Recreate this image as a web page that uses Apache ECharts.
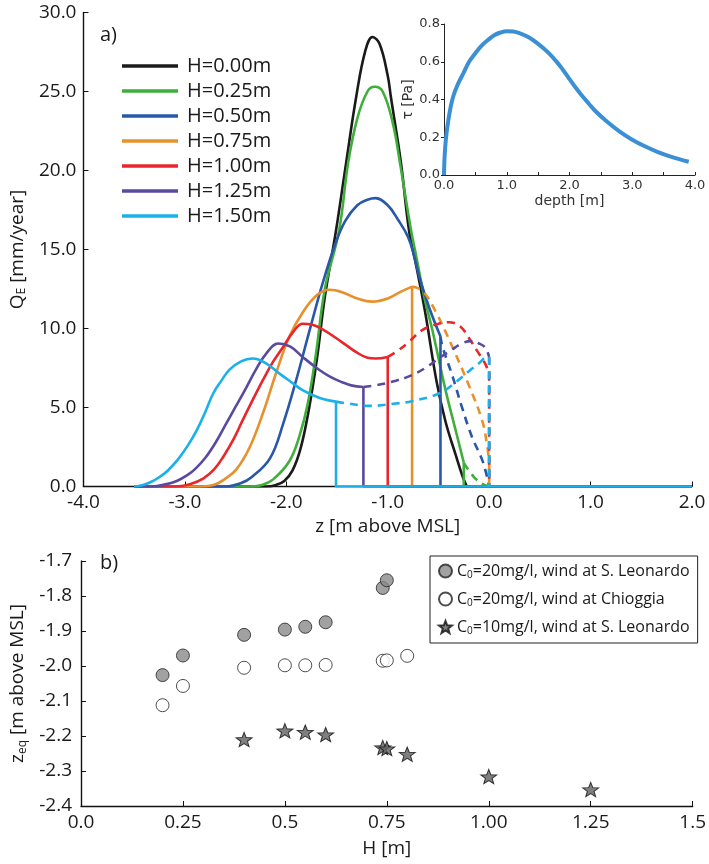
<!DOCTYPE html>
<html><head><meta charset="utf-8">
<script src="https://cdn.jsdelivr.net/npm/echarts@6/dist/echarts.min.js"></script>
<style>html,body{margin:0;padding:0;background:#fff}#c{width:709px;height:864px}</style>
</head><body><div id="c"></div><script>
// ---------- Panel a: Q_E vs z, one solid + one dashed curve per H ----------
const hLabels = ['H=0.00m','H=0.25m','H=0.50m','H=0.75m','H=1.00m','H=1.25m','H=1.50m'];
const zEnd = 2.0;

const solidH000 = [[-3.5,0],[-2.2,0],[-2.1,0.1],[-2.02,0.35],[-1.94,1.0],[-1.86,2.4],[-1.78,4.8],[-1.7,8.0],[-1.62,12.0],[-1.51,16.2],[-1.41,20.5],[-1.31,24.7],[-1.22,27.6],[-1.15,28.45],[-1.08,28.0],[-1.0,26.0],[-0.97,24.7],[-0.87,20.5],[-0.79,16.2],[-0.72,14.0],[-0.63,11.0],[-0.52,6.7],[-0.43,4.1],[-0.33,2.0],[-0.26,0.6],[-0.22,0]];
const solidH025 = [[-3.5,0],[-2.38,0],[-2.24,0.1],[-2.13,0.45],[-1.97,1.6],[-1.87,3.2],[-1.79,5.2],[-1.71,8.3],[-1.62,12.5],[-1.48,16.2],[-1.39,20.5],[-1.3,23.3],[-1.2,25.0],[-1.13,25.3],[-1.05,25.0],[-0.95,23.0],[-0.88,20.5],[-0.77,16.2],[-0.72,14.6],[-0.64,12.0],[-0.56,9.9],[-0.43,6.1],[-0.34,3.8],[-0.25,1.5]];
const solidH050 = [[-3.5,0],[-2.6,0],[-2.45,0.2],[-2.34,0.6],[-2.16,1.8],[-2.03,4.0],[-1.9,6.8],[-1.77,9.9],[-1.64,12.9],[-1.52,15.3],[-1.42,16.8],[-1.3,17.8],[-1.2,18.15],[-1.12,18.25],[-1.0,17.8],[-0.9,16.9],[-0.8,15.8],[-0.74,14.6],[-0.69,13.3],[-0.59,11.3],[-0.48,9.5]];
const solidH075 = [[-3.5,0],[-2.9,0],[-2.72,0.1],[-2.6,0.5],[-2.49,1.1],[-2.36,2.5],[-2.23,4.65],[-2.1,7.2],[-1.97,9.5],[-1.84,11.0],[-1.7,12.1],[-1.575,12.45],[-1.45,12.3],[-1.3,11.9],[-1.15,11.7],[-1.0,11.9],[-0.88,12.3],[-0.76,12.65]];
const solidH100 = [[-3.5,0],[-3.1,0],[-2.95,0.15],[-2.82,0.5],[-2.71,1.1],[-2.62,1.9],[-2.52,3.0],[-2.43,4.2],[-2.33,5.5],[-2.23,6.75],[-2.13,7.9],[-2.03,8.85],[-1.93,9.8],[-1.84,10.3],[-1.75,10.25],[-1.63,9.9],[-1.51,9.4],[-1.4,8.9],[-1.31,8.5],[-1.2,8.15],[-1.12,8.1],[-1.0,8.2]];
const solidH125 = [[-3.5,0],[-3.33,0],[-3.18,0.15],[-3.08,0.35],[-2.98,0.7],[-2.9,1.1],[-2.8,1.8],[-2.7,2.75],[-2.6,3.9],[-2.5,5.05],[-2.4,6.2],[-2.3,7.4],[-2.2,8.4],[-2.08,9.05],[-1.96,8.85],[-1.84,8.2],[-1.7,7.5],[-1.57,6.95],[-1.45,6.6],[-1.36,6.4],[-1.24,6.3]];
const solidH150 = [[-3.5,0],[-3.42,0.08],[-3.33,0.3],[-3.25,0.6],[-3.17,1.0],[-3.07,1.7],[-2.97,2.6],[-2.88,3.6],[-2.8,4.7],[-2.72,5.9],[-2.64,6.7],[-2.56,7.4],[-2.45,7.9],[-2.33,8.1],[-2.2,7.8],[-2.07,7.16],[-1.95,6.6],[-1.84,6.1],[-1.67,5.6],[-1.51,5.37]];

const dashH025 = [[-0.25,1.5],[-0.15,0.6],[-0.05,0.1],[0,0]];
const dashH050 = [[-0.48,9.5],[-0.46,8.85],[-0.36,6.95],[-0.27,5.05],[-0.17,3.15],[-0.07,1.7],[-0.02,0.6],[0,0]];
const dashH075 = [[-0.76,12.65],[-0.66,12.4],[-0.53,11.1],[-0.36,8.8],[-0.2,6.4],[-0.07,4.2],[-0.02,2.6],[0,1.5]];
const dashH100 = [[-1.0,8.2],[-0.9,8.6],[-0.8,9.1],[-0.66,9.9],[-0.5,10.3],[-0.4,10.4],[-0.28,10.1],[-0.2,9.4],[-0.12,8.6],[-0.05,7.9],[0,7.2]];
const dashH125 = [[-1.24,6.3],[-1.08,6.45],[-0.92,6.7],[-0.78,7.0],[-0.63,7.5],[-0.5,8.1],[-0.38,8.6],[-0.27,9.05],[-0.18,9.2],[-0.1,9.05],[-0.04,8.8],[0,8.2]];
const dashH150 = [[-1.51,5.37],[-1.41,5.27],[-1.18,5.1],[-0.92,5.25],[-0.76,5.4],[-0.49,5.9],[-0.33,6.6],[-0.2,7.3],[-0.1,7.8],[-0.02,8.2],[0,8.2]];

// ---------- Inset: tau vs depth ----------
const insetDepth = [0,0.01,0.03,0.06,0.1,0.15,0.22,0.31,0.4,0.5,0.6,0.7,0.8,0.9,1.0,1.1,1.2,1.35,1.5,1.65,1.8,1.9,2.0,2.1,2.2,2.4,2.6,2.8,3.0,3.2,3.4,3.6,3.9];
const insetTau   = [0,0.10,0.19,0.27,0.35,0.42,0.48,0.54,0.60,0.645,0.685,0.715,0.74,0.755,0.762,0.76,0.752,0.73,0.695,0.652,0.598,0.555,0.508,0.462,0.42,0.343,0.282,0.23,0.187,0.152,0.123,0.099,0.07];

// ---------- Panel b: z_eq vs H ----------
const seriesNamesB = ['C0=20mg/l, wind at S. Leonardo','C0=20mg/l, wind at Chioggia','C0=10mg/l, wind at S. Leonardo'];
const hLeonardo20 = [0.2,0.25,0.4,0.5,0.55,0.6,0.74,0.75];
const zLeonardo20 = [-2.026,-1.970,-1.911,-1.896,-1.888,-1.875,-1.777,-1.755];
const hChioggia20 = [0.2,0.25,0.4,0.5,0.55,0.6,0.74,0.75,0.8];
const zChioggia20 = [-2.112,-2.057,-2.005,-1.998,-1.998,-1.997,-1.985,-1.984,-1.971];
const hLeonardo10 = [0.4,0.5,0.55,0.6,0.74,0.75,0.8,1.0,1.25];
const zLeonardo10 = [-2.210,-2.185,-2.189,-2.196,-2.233,-2.236,-2.252,-2.316,-2.353];
const hTickLabels = ['0.0','0.25','0.5','0.75','1.00','1.25','1.5'];

// ---------- styles ----------
const FONT = 'Open Sans';
const curveColors = ['#1a1a1a','#3fae3a','#2a58a8','#e8902c','#e8262b','#5a4a9f','#1bb0e8'];
const solids = [solidH000,solidH025,solidH050,solidH075,solidH100,solidH125,solidH150];
const dashes = [null,dashH025,dashH050,dashH075,dashH100,dashH125,dashH150];

const series = [];
const LW = 2.6, SM = 0.4;
solids.forEach((d,i)=>{
  const c = curveColors[i];
  series.push({type:'line',name:hLabels[i],xAxisIndex:0,yAxisIndex:0,data:d,symbol:'none',smooth:SM,
    lineStyle:{color:c,width:LW},itemStyle:{color:c},z:2+i});
  const last = d[d.length-1];
  series.push({type:'line',name:hLabels[i],xAxisIndex:0,yAxisIndex:0,data:[last,[last[0],0],[zEnd,0]],symbol:'none',
    lineStyle:{color:c,width:LW},itemStyle:{color:c},z:2+i});
});
dashes.forEach((d,i)=>{
  if(!d) return;
  const c = curveColors[i];
  series.push({type:'line',name:hLabels[i],xAxisIndex:0,yAxisIndex:0,data:d,symbol:'none',smooth:SM,
    lineStyle:{color:c,width:LW,type:[8,6]},itemStyle:{color:c},z:2+i});
  const last = d[d.length-1];
  if(last[1]>0){
    series.push({type:'line',name:hLabels[i],xAxisIndex:0,yAxisIndex:0,data:[last,[last[0],0]],symbol:'none',
      lineStyle:{color:c,width:LW,type:[8,6]},itemStyle:{color:c},z:2+i});
  }
});
series.push({type:'line',name:'tau',xAxisIndex:2,yAxisIndex:2,data:insetDepth.map((x,i)=>[x,insetTau[i]]),
  symbol:'none',smooth:0.4,lineStyle:{color:'#3b8fd5',width:4},itemStyle:{color:'#3b8fd5'}});

const starPath = 'path://M50 0 L62.34 33.01 L97.55 34.55 L69.97 56.49 L79.39 90.45 L50 71 L20.61 90.45 L30.03 56.49 L2.45 34.55 L37.66 33.01 Z';
series.push({type:'scatter',name:seriesNamesB[0],xAxisIndex:1,yAxisIndex:1,data:hLeonardo20.map((h,i)=>[h,zLeonardo20[i]]),
  symbol:'circle',symbolSize:13,itemStyle:{color:'#8a8a8a',borderColor:'#222',borderWidth:1}});
series.push({type:'scatter',name:seriesNamesB[1],xAxisIndex:1,yAxisIndex:1,data:hChioggia20.map((h,i)=>[h,zChioggia20[i]]),
  symbol:'circle',symbolSize:13,itemStyle:{color:'#fff',borderColor:'#222',borderWidth:1}});
series.push({type:'scatter',name:seriesNamesB[2],xAxisIndex:1,yAxisIndex:1,data:hLeonardo10.map((h,i)=>[h,zLeonardo10[i]]),
  symbol:starPath,symbolSize:[16,15],symbolKeepAspect:true,itemStyle:{color:'#5f5f5f',borderColor:'#111',borderWidth:1}});

const tickLabel = {fontFamily:FONT,fontSize:19,color:'#1a1a1a'};
const insetLabel = {fontFamily:'DejaVu Sans',fontSize:13,color:'#333'};
const insetName = {fontFamily:'DejaVu Sans',fontSize:14,color:'#333'};
const subRich = {sub:{fontSize:12,padding:[9,0,0,0],fontFamily:FONT,color:'#1a1a1a'}};

const option = {
  animation:false,
  backgroundColor:'#fff',
  grid:[
    {left:81,top:12.5,width:611,height:474},
    {left:81,top:561,width:613,height:245},
    {left:444,top:24,width:251,height:151}
  ],
  xAxis:[
    {gridIndex:0,type:'value',min:-4,max:2,interval:1,
     axisLine:{onZero:false,lineStyle:{color:'#111',width:1.4}},axisTick:{inside:true,length:5,lineStyle:{color:'#111'}},
     splitLine:{show:false},axisLabel:Object.assign({margin:7,formatter:v=>v.toFixed(1)},tickLabel),
     name:'z [m above MSL]',nameLocation:'middle',nameGap:27,nameTextStyle:tickLabel},
    {gridIndex:1,type:'value',min:0,max:1.5,interval:0.25,
     axisLine:{onZero:false,lineStyle:{color:'#111',width:1.4}},axisTick:{inside:true,length:5,lineStyle:{color:'#111'}},
     splitLine:{show:false},axisLabel:Object.assign({margin:7,formatter:v=>hTickLabels[Math.round(v/0.25)]},tickLabel),
     name:'H [m]',nameLocation:'middle',nameGap:33,nameTextStyle:tickLabel},
    {gridIndex:2,type:'value',min:0,max:4,interval:1,
     axisLine:{onZero:false,lineStyle:{color:'#222',width:1}},axisTick:{inside:true,length:3,lineStyle:{color:'#222'}},
     minorTick:{show:true,splitNumber:2,length:3,lineStyle:{color:'#222'}},
     splitLine:{show:false},axisLabel:Object.assign({margin:4,formatter:v=>v.toFixed(1)},insetLabel),
     name:'depth [m]',nameLocation:'middle',nameGap:19,nameTextStyle:insetName}
  ],
  yAxis:[
    {gridIndex:0,type:'value',min:0,max:30,interval:5,
     axisLine:{show:true,onZero:false,lineStyle:{color:'#111',width:1.4}},axisTick:{show:true,inside:true,length:5,lineStyle:{color:'#111'}},
     splitLine:{show:false},axisLabel:Object.assign({margin:7,formatter:v=>v.toFixed(1)},tickLabel),
     name:'Q{sub|E} [mm/year]',nameLocation:'middle',nameGap:48,nameTextStyle:Object.assign({rich:subRich},tickLabel)},
    {gridIndex:1,type:'value',min:-2.4,max:-1.7,interval:0.1,
     axisLine:{show:true,onZero:false,lineStyle:{color:'#111',width:1.4}},axisTick:{show:true,inside:true,length:5,lineStyle:{color:'#111'}},
     splitLine:{show:false},axisLabel:Object.assign({margin:9,formatter:v=>v.toFixed(1)},tickLabel),
     name:'z{sub|eq} [m above MSL]',nameLocation:'middle',nameGap:44,nameTextStyle:Object.assign({rich:subRich},tickLabel)},
    {gridIndex:2,type:'value',min:0,max:0.8,interval:0.2,
     axisLine:{show:true,onZero:false,lineStyle:{color:'#222',width:1}},axisTick:{show:true,inside:false,length:3,lineStyle:{color:'#222'}},
     splitLine:{show:false},axisLabel:Object.assign({margin:4,formatter:v=>v.toFixed(1)},insetLabel),
     name:'τ [Pa]',nameLocation:'middle',nameGap:26,nameTextStyle:insetName}
  ],
  legend:[
    {data:hLabels,orient:'vertical',left:117,top:51,icon:'rect',itemWidth:56,itemHeight:3.5,itemGap:5,
     textStyle:{fontFamily:FONT,fontSize:20,color:'#1a1a1a',padding:[0,0,0,4]},selectedMode:false},
    {data:seriesNamesB,orient:'vertical',left:430,top:556,padding:[7,8,7,8],itemGap:11,itemWidth:13,itemHeight:13,
     borderColor:'#222',borderWidth:1,selectedMode:false,
     formatter:n=>'C{sub|'+n.charAt(1)+'}'+n.slice(2),
     textStyle:{fontFamily:FONT,fontSize:16,color:'#1a1a1a',rich:{sub:{fontSize:10,padding:[8,0,0,0],fontFamily:FONT,color:'#1a1a1a'}}}}
  ],
  graphic:[
    {type:'text',left:100,top:25,style:{text:'a)',fontFamily:FONT,fontSize:20,fill:'#1a1a1a'}},
    {type:'text',left:100,top:553,style:{text:'b)',fontFamily:FONT,fontSize:20,fill:'#1a1a1a'}}
  ],
  series:series
};
const chart = echarts.init(document.getElementById('c'),null,{renderer:'canvas'});
chart.setOption(option);
</script></body></html>
